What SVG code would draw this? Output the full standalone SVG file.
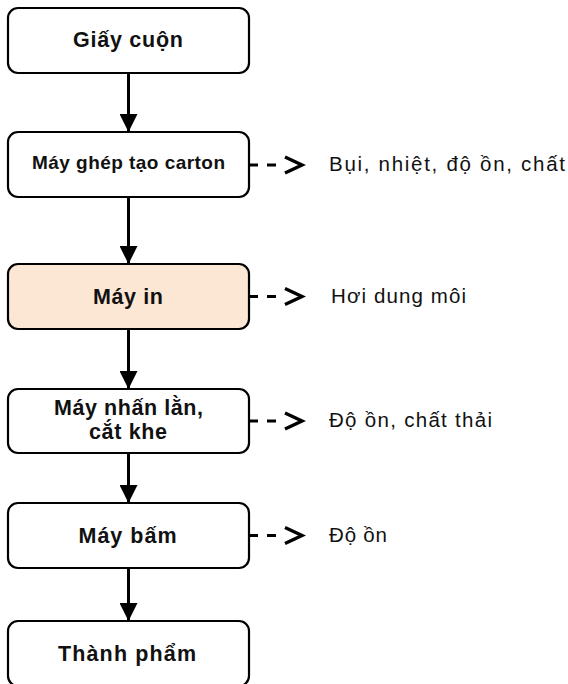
<svg xmlns="http://www.w3.org/2000/svg" width="568" height="684" viewBox="0 0 568 684">
<defs>
<style>
.box{fill:#ffffff;stroke:#000;stroke-width:2.2}
.hl{fill:#fce7d4}
.lbl{font-family:"Liberation Sans",Arial,sans-serif;font-weight:bold;font-size:21.5px;fill:#111;text-anchor:middle}
.out{font-family:"Liberation Sans",Arial,sans-serif;font-size:20.5px;fill:#111}
.flow{stroke:#000;stroke-width:3;fill:none}
.dash{stroke:#000;stroke-width:3.2;fill:none;stroke-dasharray:9 9}
.chev{stroke:#000;stroke-width:3.4;fill:none;stroke-linejoin:miter}
</style>
<marker id="ah" markerWidth="18" markerHeight="18" viewBox="0 0 18 18" refX="17" refY="9" orient="auto" markerUnits="userSpaceOnUse">
<path d="M0,0 L18,9 L0,18 Z" fill="#000"/>
</marker>
</defs>
<g id="connectors">
<line class="flow" x1="128.5" y1="73" x2="128.5" y2="131" marker-end="url(#ah)"/>
<line class="flow" x1="128.5" y1="197" x2="128.5" y2="263" marker-end="url(#ah)"/>
<line class="flow" x1="128.5" y1="329" x2="128.5" y2="388" marker-end="url(#ah)"/>
<line class="flow" x1="128.5" y1="453" x2="128.5" y2="502" marker-end="url(#ah)"/>
<line class="flow" x1="128.5" y1="568" x2="128.5" y2="620" marker-end="url(#ah)"/>
<line class="dash" x1="249" y1="165" x2="277" y2="165"/>
<polyline class="chev" points="285,157 302,165 285,173"/>
<line class="dash" x1="249" y1="296.5" x2="277" y2="296.5"/>
<polyline class="chev" points="285,288.5 302,296.5 285,304.5"/>
<line class="dash" x1="249" y1="421" x2="277" y2="421"/>
<polyline class="chev" points="285,413 302,421 285,429"/>
<line class="dash" x1="249" y1="535.5" x2="277" y2="535.5"/>
<polyline class="chev" points="285,527.5 302,535.5 285,543.5"/>
</g>
<g id="n1">
<rect class="box" x="8" y="8" width="241" height="65" rx="10"/>
<text class="lbl" x="128" y="47" textLength="110" lengthAdjust="spacing">Giấy cuộn</text>
</g>
<g id="n2">
<rect class="box" x="8" y="132" width="241" height="65" rx="10"/>
<text class="lbl" x="128.5" y="168.5" style="font-size:19px" textLength="193" lengthAdjust="spacing">Máy ghép tạo carton</text>
</g>
<g id="n3">
<rect class="box hl" x="8" y="264" width="241" height="65" rx="10"/>
<text class="lbl" x="128" y="303.5" textLength="70" lengthAdjust="spacing">Máy in</text>
</g>
<g id="n4">
<rect class="box" x="8" y="389" width="241" height="64" rx="10"/>
<text class="lbl" x="128.5" y="414.5" textLength="149" lengthAdjust="spacing">Máy nhấn lằn,</text>
<text class="lbl" x="128" y="438.5" textLength="78" lengthAdjust="spacing">cắt khe</text>
</g>
<g id="n5">
<rect class="box" x="8" y="503" width="241" height="65" rx="10"/>
<text class="lbl" x="127.5" y="543" textLength="98" lengthAdjust="spacing">Máy bấm</text>
</g>
<g id="n6">
<rect class="box" x="8" y="621" width="241" height="65" rx="10"/>
<text class="lbl" x="127" y="660.5" textLength="138" lengthAdjust="spacing">Thành phẩm</text>
</g>
<g id="o1"><text class="out" x="329" y="171" textLength="236" lengthAdjust="spacing">Bụi, nhiệt, độ ồn, chất</text></g>
<g id="o2"><text class="out" x="331" y="302.5" textLength="135" lengthAdjust="spacing">Hơi dung môi</text></g>
<g id="o3"><text class="out" x="329" y="426.5" textLength="163" lengthAdjust="spacing">Độ ồn, chất thải</text></g>
<g id="o4"><text class="out" x="329" y="542" textLength="58" lengthAdjust="spacing">Độ ồn</text></g>
</svg>
